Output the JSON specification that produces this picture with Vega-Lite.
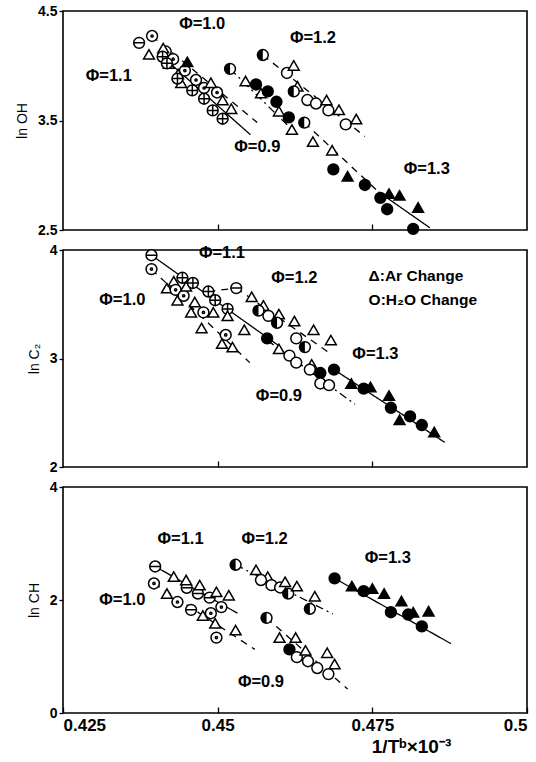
{
"$schema": "https://vega.github.io/schema/vega-lite/v6.json",
"background": "white",
"padding": {"left": 14, "top": 3, "right": 6, "bottom": 4},
"bounds": "flush",
"spacing": 20,
"config": {
  "font": "Liberation Sans",
  "view": {"stroke": "black", "strokeWidth": 1.6},
  "axis": {"grid": false, "domain": false, "tickColor": "black", "labelColor": "black", "titleColor": "black", "labelFont": "Liberation Sans", "titleFont": "Liberation Sans", "labelFontWeight": "bold", "titleFontWeight": "normal", "labelFontSize": 14, "titleFontSize": 14, "tickWidth": 1.3},
  "axisY": {"tickSize": 4, "labelPadding": 2, "titlePadding": 8},
  "point": {"opacity": 1},
  "text": {"font": "Liberation Sans", "fontWeight": "bold", "color": "black"}
},
"datasets": {
"pts": [
{"p":"OH","s":"dot","x":0.4394,"y":4.272},{"p":"OH","s":"dot","x":0.4416,"y":4.130},{"p":"OH","s":"dot","x":0.4428,"y":4.060},{"p":"OH","s":"dot","x":0.4447,"y":3.956},{"p":"OH","s":"dot","x":0.4465,"y":3.870},{"p":"OH","s":"dot","x":0.4478,"y":3.797},{"p":"OH","s":"dot","x":0.4499,"y":3.756},
{"p":"OH","s":"tri","x":0.4389,"y":4.104},{"p":"OH","s":"tri","x":0.4412,"y":4.161},{"p":"OH","s":"tri","x":0.4421,"y":4.019},{"p":"OH","s":"tri","x":0.4436,"y":3.924},{"p":"OH","s":"tri","x":0.4441,"y":3.845},{"p":"OH","s":"tri","x":0.4489,"y":3.845},{"p":"OH","s":"tri","x":0.4508,"y":3.687},{"p":"OH","s":"tri","x":0.4522,"y":3.608},
{"p":"OH","s":"trif","x":0.4451,"y":4.035},
{"p":"OH","s":"bar","x":0.4373,"y":4.209},
{"p":"OH","s":"cross","x":0.4411,"y":4.082},{"p":"OH","s":"cross","x":0.4418,"y":4.022},{"p":"OH","s":"cross","x":0.4435,"y":3.883},{"p":"OH","s":"cross","x":0.4459,"y":3.775},{"p":"OH","s":"cross","x":0.4478,"y":3.699},{"p":"OH","s":"cross","x":0.4492,"y":3.592},{"p":"OH","s":"cross","x":0.4508,"y":3.516},
{"p":"OH","s":"half","x":0.4520,"y":3.972},{"p":"OH","s":"tri","x":0.4545,"y":3.861},{"p":"OH","s":"fill","x":0.4562,"y":3.829},{"p":"OH","s":"tri","x":0.4570,"y":3.750},{"p":"OH","s":"fill","x":0.4581,"y":3.766},{"p":"OH","s":"fill","x":0.4595,"y":3.671},{"p":"OH","s":"tri","x":0.4599,"y":3.585},{"p":"OH","s":"fill","x":0.4615,"y":3.528},{"p":"OH","s":"tri","x":0.4620,"y":3.418},
{"p":"OH","s":"half","x":0.4640,"y":3.481},{"p":"OH","s":"tri","x":0.4654,"y":3.307},{"p":"OH","s":"tri","x":0.4685,"y":3.228},{"p":"OH","s":"fill","x":0.4687,"y":3.054},{"p":"OH","s":"trif","x":0.4710,"y":2.991},{"p":"OH","s":"fill","x":0.4738,"y":2.911},{"p":"OH","s":"fill","x":0.4763,"y":2.794},{"p":"OH","s":"fill","x":0.4774,"y":2.690},{"p":"OH","s":"trif","x":0.4777,"y":2.832},{"p":"OH","s":"trif","x":0.4794,"y":2.816},{"p":"OH","s":"trif","x":0.4824,"y":2.706},{"p":"OH","s":"fill","x":0.4816,"y":2.510},
{"p":"OH","s":"half","x":0.4573,"y":4.098},{"p":"OH","s":"circ","x":0.4612,"y":3.934},{"p":"OH","s":"tri","x":0.4623,"y":4.003},{"p":"OH","s":"tri","x":0.4629,"y":3.813},{"p":"OH","s":"half","x":0.4623,"y":3.766},{"p":"OH","s":"circ","x":0.4645,"y":3.687},{"p":"OH","s":"circ","x":0.4659,"y":3.655},{"p":"OH","s":"tri","x":0.4676,"y":3.687},{"p":"OH","s":"circ","x":0.4679,"y":3.592},{"p":"OH","s":"tri","x":0.4696,"y":3.598},{"p":"OH","s":"circ","x":0.4707,"y":3.465},{"p":"OH","s":"tri","x":0.4724,"y":3.513},

{"p":"C2","s":"bar","x":0.4393,"y":3.952},{"p":"C2","s":"dot","x":0.4393,"y":3.824},{"p":"C2","s":"tri","x":0.4418,"y":3.649},{"p":"C2","s":"tri","x":0.4429,"y":3.712},{"p":"C2","s":"dot","x":0.4432,"y":3.633},{"p":"C2","s":"tri","x":0.4435,"y":3.537},{"p":"C2","s":"dot","x":0.4445,"y":3.578},{"p":"C2","s":"tri","x":0.4449,"y":3.665},{"p":"C2","s":"cross","x":0.4443,"y":3.744},{"p":"C2","s":"cross","x":0.4460,"y":3.696},{"p":"C2","s":"cross","x":0.4485,"y":3.617},{"p":"C2","s":"tri","x":0.4457,"y":3.425},{"p":"C2","s":"tri","x":0.4463,"y":3.521},{"p":"C2","s":"dot","x":0.4477,"y":3.425},{"p":"C2","s":"cross","x":0.4496,"y":3.537},{"p":"C2","s":"tri","x":0.4474,"y":3.281},{"p":"C2","s":"tri","x":0.4493,"y":3.425},{"p":"C2","s":"cross","x":0.4516,"y":3.457},{"p":"C2","s":"tri","x":0.4516,"y":3.393},{"p":"C2","s":"dot","x":0.4513,"y":3.217},{"p":"C2","s":"tri","x":0.4507,"y":3.137},{"p":"C2","s":"tri","x":0.4524,"y":3.105},{"p":"C2","s":"tri","x":0.4543,"y":3.265},
{"p":"C2","s":"bar","x":0.4530,"y":3.649},{"p":"C2","s":"tri","x":0.4555,"y":3.569},{"p":"C2","s":"tri","x":0.4574,"y":3.489},{"p":"C2","s":"half","x":0.4566,"y":3.441},{"p":"C2","s":"circ","x":0.4582,"y":3.393},{"p":"C2","s":"tri","x":0.4599,"y":3.409},{"p":"C2","s":"half","x":0.4596,"y":3.329},{"p":"C2","s":"tri","x":0.4624,"y":3.345},{"p":"C2","s":"circ","x":0.4627,"y":3.185},{"p":"C2","s":"half","x":0.4641,"y":3.105},{"p":"C2","s":"tri","x":0.4655,"y":3.265},{"p":"C2","s":"tri","x":0.4683,"y":3.169},
{"p":"C2","s":"fill","x":0.4580,"y":3.185},{"p":"C2","s":"tri","x":0.4599,"y":3.089},{"p":"C2","s":"circ","x":0.4616,"y":3.026},{"p":"C2","s":"circ","x":0.4627,"y":2.962},{"p":"C2","s":"tri","x":0.4652,"y":2.946},{"p":"C2","s":"circ","x":0.4649,"y":2.898},{"p":"C2","s":"fill","x":0.4666,"y":2.866},{"p":"C2","s":"circ","x":0.4666,"y":2.770},{"p":"C2","s":"circ","x":0.4680,"y":2.754},
{"p":"C2","s":"fill","x":0.4688,"y":2.898},{"p":"C2","s":"trif","x":0.4716,"y":2.770},{"p":"C2","s":"fill","x":0.4736,"y":2.722},{"p":"C2","s":"trif","x":0.4747,"y":2.738},{"p":"C2","s":"trif","x":0.4777,"y":2.658},{"p":"C2","s":"fill","x":0.4780,"y":2.546},{"p":"C2","s":"trif","x":0.4794,"y":2.435},{"p":"C2","s":"fill","x":0.4811,"y":2.466},{"p":"C2","s":"fill","x":0.4830,"y":2.387},{"p":"C2","s":"trif","x":0.4850,"y":2.323},

{"p":"CH","s":"bar","x":0.4399,"y":2.593},{"p":"CH","s":"dot","x":0.4397,"y":2.293},{"p":"CH","s":"tri","x":0.4429,"y":2.413},{"p":"CH","s":"tri","x":0.4418,"y":2.114},{"p":"CH","s":"dot","x":0.4435,"y":1.964},{"p":"CH","s":"bar","x":0.4450,"y":2.216},{"p":"CH","s":"tri","x":0.4449,"y":2.353},{"p":"CH","s":"bar","x":0.4468,"y":2.114},{"p":"CH","s":"tri","x":0.4471,"y":2.263},{"p":"CH","s":"bar","x":0.4457,"y":1.826},{"p":"CH","s":"tri","x":0.4476,"y":1.725},{"p":"CH","s":"dot","x":0.4489,"y":1.766},{"p":"CH","s":"bar","x":0.4487,"y":2.042},{"p":"CH","s":"tri","x":0.4498,"y":2.144},{"p":"CH","s":"tri","x":0.4518,"y":2.084},{"p":"CH","s":"dot","x":0.4506,"y":1.874},{"p":"CH","s":"tri","x":0.4496,"y":1.587},{"p":"CH","s":"dot","x":0.4498,"y":1.335},{"p":"CH","s":"tri","x":0.4529,"y":1.467},
{"p":"CH","s":"half","x":0.4529,"y":2.623},{"p":"CH","s":"tri","x":0.4562,"y":2.533},{"p":"CH","s":"tri","x":0.4581,"y":2.413},{"p":"CH","s":"circ","x":0.4570,"y":2.353},{"p":"CH","s":"circ","x":0.4587,"y":2.263},{"p":"CH","s":"circ","x":0.4601,"y":2.222},{"p":"CH","s":"tri","x":0.4609,"y":2.323},{"p":"CH","s":"half","x":0.4614,"y":2.114},{"p":"CH","s":"tri","x":0.4628,"y":2.246},{"p":"CH","s":"tri","x":0.4657,"y":2.066},{"p":"CH","s":"half","x":0.4649,"y":1.844},
{"p":"CH","s":"half","x":0.4579,"y":1.683},{"p":"CH","s":"tri","x":0.4600,"y":1.335},{"p":"CH","s":"tri","x":0.4626,"y":1.335},{"p":"CH","s":"fill","x":0.4616,"y":1.126},{"p":"CH","s":"circ","x":0.4628,"y":0.988},{"p":"CH","s":"tri","x":0.4642,"y":1.108},{"p":"CH","s":"circ","x":0.4646,"y":0.916},{"p":"CH","s":"circ","x":0.4661,"y":0.796},{"p":"CH","s":"tri","x":0.4677,"y":1.066},{"p":"CH","s":"tri","x":0.4689,"y":0.868},{"p":"CH","s":"circ","x":0.4679,"y":0.689},
{"p":"CH","s":"fill","x":0.4689,"y":2.383},{"p":"CH","s":"trif","x":0.4717,"y":2.246},{"p":"CH","s":"fill","x":0.4736,"y":2.156},{"p":"CH","s":"trif","x":0.4750,"y":2.204},{"p":"CH","s":"trif","x":0.4769,"y":2.114},{"p":"CH","s":"fill","x":0.4780,"y":1.784},{"p":"CH","s":"trif","x":0.4797,"y":1.982},{"p":"CH","s":"fill","x":0.4808,"y":1.743},{"p":"CH","s":"trif","x":0.4816,"y":1.784},{"p":"CH","s":"trif","x":0.4841,"y":1.802},{"p":"CH","s":"fill","x":0.4830,"y":1.533}
],
"lines": [
{"p":"OH","g":"g1","x":0.4411,"y":4.082,"x2":0.4553,"y2":3.370},
{"p":"OH","g":"g2","x":0.4394,"y":4.272,"x2":0.4564,"y2":3.481},
{"p":"OH","g":"g3","x":0.4520,"y":3.972,"x2":0.4623,"y2":3.402},
{"p":"OH","g":"g4","x":0.4640,"y":3.481,"x2":0.4760,"y2":2.848},
{"p":"OH","g":"g5","x":0.4760,"y":2.848,"x2":0.4843,"y2":2.520},
{"p":"OH","g":"g6","x":0.4573,"y":4.098,"x2":0.4738,"y2":3.354},
{"p":"C2","g":"g1","x":0.4393,"y":3.952,"x2":0.4602,"y2":3.105},
{"p":"C2","g":"g2","x":0.4393,"y":3.824,"x2":0.4552,"y2":2.962},
{"p":"C2","g":"g3","x":0.4580,"y":3.169,"x2":0.4722,"y2":2.578},
{"p":"C2","g":"g4","x":0.4530,"y":3.649,"x2":0.4683,"y2":3.042},
{"p":"C2","g":"g5","x":0.4688,"y":2.898,"x2":0.4867,"y2":2.227},
{"p":"C2","g":"g6","x":0.4485,"y":3.617,"x2":0.4530,"y2":3.649},
{"p":"CH","g":"g1","x":0.4399,"y":2.593,"x2":0.4532,"y2":1.766},
{"p":"CH","g":"g2","x":0.4397,"y":2.293,"x2":0.4560,"y2":1.126},
{"p":"CH","g":"g3","x":0.4529,"y":2.623,"x2":0.4686,"y2":1.754},
{"p":"CH","g":"g4","x":0.4579,"y":1.683,"x2":0.4710,"y2":0.425},
{"p":"CH","g":"g5","x":0.4689,"y":2.383,"x2":0.4877,"y2":1.228}
],
"labels": [
{"p":"OH","k":"phi","t":"Φ=1.0","x":0.4475,"y":4.383},
{"p":"OH","k":"phi","t":"Φ=1.2","x":0.4654,"y":4.256},
{"p":"OH","k":"phi","t":"Φ=1.1","x":0.4324,"y":3.908},
{"p":"OH","k":"phi","t":"Φ=0.9","x":0.4564,"y":3.259},
{"p":"OH","k":"phi","t":"Φ=1.3","x":0.4838,"y":3.054},
{"p":"C2","k":"phi","t":"Φ=1.1","x":0.4507,"y":3.968},
{"p":"C2","k":"phi","t":"Φ=1.2","x":0.4624,"y":3.744},
{"p":"C2","k":"phi","t":"Φ=1.0","x":0.4346,"y":3.537},
{"p":"C2","k":"phi","t":"Φ=1.3","x":0.4755,"y":3.042},
{"p":"C2","k":"phi","t":"Φ=0.9","x":0.4599,"y":2.658},
{"p":"C2","k":"key","t":"Δ:Ar Change","x":0.4744,"y":3.760},
{"p":"C2","k":"key","t":"O:H₂O Change","x":0.4744,"y":3.537},
{"p":"CH","k":"phi","t":"Φ=1.1","x":0.4440,"y":3.072},
{"p":"CH","k":"phi","t":"Φ=1.2","x":0.4576,"y":3.072},
{"p":"CH","k":"phi","t":"Φ=1.3","x":0.4775,"y":2.743},
{"p":"CH","k":"phi","t":"Φ=1.0","x":0.4346,"y":1.994},
{"p":"CH","k":"phi","t":"Φ=0.9","x":0.4570,"y":0.557}
]
},
"vconcat": [
{
 "width": 464, "height": 219,
 "layer": [
  {"data": {"name": "lines"}, "transform": [{"filter": "datum.p === 'OH'"}],
   "mark": {"type": "rule", "color": "black", "strokeWidth": 1.3},
   "encoding": {
    "x": {"field": "x", "type": "quantitative", "scale": {"domain": [0.425, 0.5], "nice": false, "zero": false}, "axis": {"values": [0.45, 0.475], "labels": false, "tickSize": -6, "title": null}},
    "y": {"field": "y", "type": "quantitative", "scale": {"domain": [2.5, 4.5], "nice": false, "zero": false}, "axis": {"values": [2.5, 3.5, 4.5], "format": ".1f", "title": "ln OH"}},
    "x2": {"field": "x2"}, "y2": {"field": "y2"},
    "strokeDash": {"field": "g", "type": "nominal", "scale": {"domain": ["g1","g2","g3","g4","g5","g6"], "range": [[1,0],[7,6],[8,4,2,4],[7,6],[1,0],[7,6]]}, "legend": null}}},
  {"data": {"name": "pts"}, "transform": [{"filter": "datum.p === 'OH'"}],
   "mark": {"type": "point", "filled": false, "stroke": "black", "strokeWidth": 1.5, "size": 118, "opacity": 1},
   "encoding": {
    "x": {"field": "x", "type": "quantitative"}, "y": {"field": "y", "type": "quantitative"},
    "shape": {"field": "s", "type": "nominal", "scale": {"domain": ["tri","trif","circ","dot","cross","bar","half","fill"], "range": ["triangle-up","triangle-up","circle","M1,0A1,1 0 1,1 -1,0A1,1 0 1,1 1,0Z M0.2,0A0.2,0.2 0 1,1 -0.2,0A0.2,0.2 0 1,1 0.2,0Z","M1,0A1,1 0 1,1 -1,0A1,1 0 1,1 1,0Z M-1,0L1,0 M0,-1L0,1","M1,0A1,1 0 1,1 -1,0A1,1 0 1,1 1,0Z M-1,0L1,0","circle","circle"]}, "legend": null},
    "fill": {"field": "s", "type": "nominal", "scale": {"domain": ["tri","trif","circ","dot","cross","bar","half","fill"], "range": ["white","black","white","white","white","white","white","black"]}, "legend": null}}},
  {"data": {"name": "pts"}, "transform": [{"filter": "datum.p === 'OH' && datum.s === 'half'"}],
   "mark": {"type": "point", "shape": "M0,-1A1,1 0 0,0 0,1Z", "filled": true, "color": "black", "size": 118, "opacity": 1},
   "encoding": {"x": {"field": "x", "type": "quantitative"}, "y": {"field": "y", "type": "quantitative"}}},
  {"data": {"name": "labels"}, "transform": [{"filter": "datum.p === 'OH'"}],
   "mark": {"type": "text", "fontSize": 16.5},
   "encoding": {"x": {"field": "x", "type": "quantitative"}, "y": {"field": "y", "type": "quantitative"}, "text": {"field": "t"}}}
 ]
},
{
 "width": 464, "height": 217,
 "layer": [
  {"data": {"name": "lines"}, "transform": [{"filter": "datum.p === 'C2'"}],
   "mark": {"type": "rule", "color": "black", "strokeWidth": 1.3},
   "encoding": {
    "x": {"field": "x", "type": "quantitative", "scale": {"domain": [0.425, 0.5], "nice": false, "zero": false}, "axis": {"values": [0.45, 0.475], "labels": false, "tickSize": -6, "title": null}},
    "y": {"field": "y", "type": "quantitative", "scale": {"domain": [2, 4], "nice": false, "zero": false}, "axis": {"values": [2, 3, 4], "format": ".0f", "title": "ln C₂"}},
    "x2": {"field": "x2"}, "y2": {"field": "y2"},
    "strokeDash": {"field": "g", "type": "nominal", "scale": {"domain": ["g1","g2","g3","g4","g5","g6"], "range": [[7,6],[8,4,2,4],[9,6],[8,4,2,4],[1,0],[1,0]]}, "legend": null}}},
  {"data": {"name": "pts"}, "transform": [{"filter": "datum.p === 'C2'"}],
   "mark": {"type": "point", "filled": false, "stroke": "black", "strokeWidth": 1.5, "size": 118, "opacity": 1},
   "encoding": {
    "x": {"field": "x", "type": "quantitative"}, "y": {"field": "y", "type": "quantitative"},
    "shape": {"field": "s", "type": "nominal", "scale": {"domain": ["tri","trif","circ","dot","cross","bar","half","fill"], "range": ["triangle-up","triangle-up","circle","M1,0A1,1 0 1,1 -1,0A1,1 0 1,1 1,0Z M0.2,0A0.2,0.2 0 1,1 -0.2,0A0.2,0.2 0 1,1 0.2,0Z","M1,0A1,1 0 1,1 -1,0A1,1 0 1,1 1,0Z M-1,0L1,0 M0,-1L0,1","M1,0A1,1 0 1,1 -1,0A1,1 0 1,1 1,0Z M-1,0L1,0","circle","circle"]}, "legend": null},
    "fill": {"field": "s", "type": "nominal", "scale": {"domain": ["tri","trif","circ","dot","cross","bar","half","fill"], "range": ["white","black","white","white","white","white","white","black"]}, "legend": null}}},
  {"data": {"name": "pts"}, "transform": [{"filter": "datum.p === 'C2' && datum.s === 'half'"}],
   "mark": {"type": "point", "shape": "M0,-1A1,1 0 0,0 0,1Z", "filled": true, "color": "black", "size": 118, "opacity": 1},
   "encoding": {"x": {"field": "x", "type": "quantitative"}, "y": {"field": "y", "type": "quantitative"}}},
  {"data": {"name": "labels"}, "transform": [{"filter": "datum.p === 'C2' && datum.k === 'phi'"}],
   "mark": {"type": "text", "fontSize": 16.5},
   "encoding": {"x": {"field": "x", "type": "quantitative"}, "y": {"field": "y", "type": "quantitative"}, "text": {"field": "t"}}},
  {"data": {"name": "labels"}, "transform": [{"filter": "datum.p === 'C2' && datum.k === 'key'"}],
   "mark": {"type": "text", "align": "left", "fontSize": 15.5},
   "encoding": {"x": {"field": "x", "type": "quantitative"}, "y": {"field": "y", "type": "quantitative"}, "text": {"field": "t"}}}
 ]
},
{
 "width": 464, "height": 226,
 "layer": [
  {"data": {"name": "lines"}, "transform": [{"filter": "datum.p === 'CH'"}],
   "mark": {"type": "rule", "color": "black", "strokeWidth": 1.3},
   "encoding": {
    "x": {"field": "x", "type": "quantitative", "scale": {"domain": [0.425, 0.5], "nice": false, "zero": false}, "axis": {"values": [0.425, 0.45, 0.475, 0.5], "format": ".3~f", "labelFlush": true, "tickSize": -6, "labelPadding": 10, "labelFontSize": 17, "title": "1/Tᵇ×10⁻³", "titleFontSize": 19, "titleFontWeight": "bold", "titleX": 348, "titleY": 33, "titleBaseline": "middle"}},
    "y": {"field": "y", "type": "quantitative", "scale": {"domain": [0, 4], "nice": false, "zero": false}, "axis": {"values": [0, 2, 4], "format": ".0f", "title": "ln CH"}},
    "x2": {"field": "x2"}, "y2": {"field": "y2"},
    "strokeDash": {"field": "g", "type": "nominal", "scale": {"domain": ["g1","g2","g3","g4","g5"], "range": [[7,6],[8,4,2,4],[7,6],[7,6],[1,0]]}, "legend": null}}},
  {"data": {"name": "pts"}, "transform": [{"filter": "datum.p === 'CH'"}],
   "mark": {"type": "point", "filled": false, "stroke": "black", "strokeWidth": 1.5, "size": 118, "opacity": 1},
   "encoding": {
    "x": {"field": "x", "type": "quantitative"}, "y": {"field": "y", "type": "quantitative"},
    "shape": {"field": "s", "type": "nominal", "scale": {"domain": ["tri","trif","circ","dot","cross","bar","half","fill"], "range": ["triangle-up","triangle-up","circle","M1,0A1,1 0 1,1 -1,0A1,1 0 1,1 1,0Z M0.2,0A0.2,0.2 0 1,1 -0.2,0A0.2,0.2 0 1,1 0.2,0Z","M1,0A1,1 0 1,1 -1,0A1,1 0 1,1 1,0Z M-1,0L1,0 M0,-1L0,1","M1,0A1,1 0 1,1 -1,0A1,1 0 1,1 1,0Z M-1,0L1,0","circle","circle"]}, "legend": null},
    "fill": {"field": "s", "type": "nominal", "scale": {"domain": ["tri","trif","circ","dot","cross","bar","half","fill"], "range": ["white","black","white","white","white","white","white","black"]}, "legend": null}}},
  {"data": {"name": "pts"}, "transform": [{"filter": "datum.p === 'CH' && datum.s === 'half'"}],
   "mark": {"type": "point", "shape": "M0,-1A1,1 0 0,0 0,1Z", "filled": true, "color": "black", "size": 118, "opacity": 1},
   "encoding": {"x": {"field": "x", "type": "quantitative"}, "y": {"field": "y", "type": "quantitative"}}},
  {"data": {"name": "labels"}, "transform": [{"filter": "datum.p === 'CH'"}],
   "mark": {"type": "text", "fontSize": 16.5},
   "encoding": {"x": {"field": "x", "type": "quantitative"}, "y": {"field": "y", "type": "quantitative"}, "text": {"field": "t"}}}
 ]
}
]
}
